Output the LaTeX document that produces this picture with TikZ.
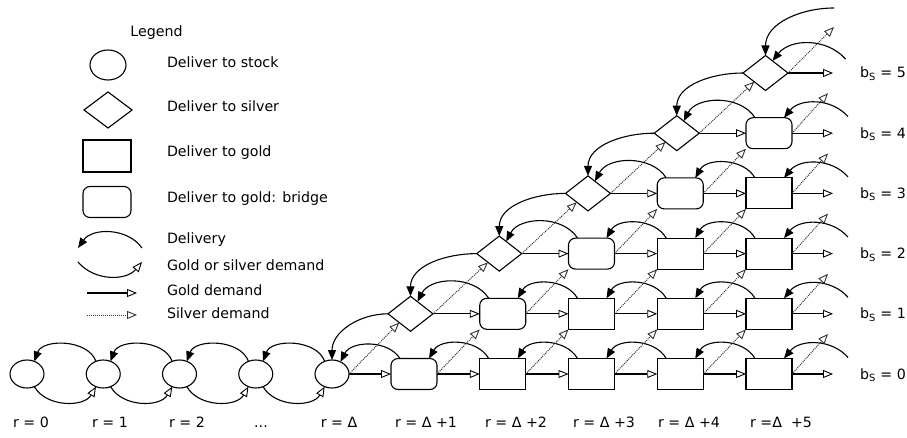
\documentclass[tikz,border=0pt]{standalone}
\usepackage{fontspec}
\setmainfont{DejaVu Sans}
\usetikzlibrary{shapes.geometric,arrows.meta,calc}
\begin{document}
\begin{tikzpicture}[x=1pt,y=1pt,
  every node/.style={inner sep=0pt, outer sep=0pt},
  shp/.style={draw, line width=1.1pt},
  circ/.style={shp, ellipse, minimum width=34pt, minimum height=28pt},
  diam/.style={shp, diamond, aspect=1.3, minimum width=45pt, minimum height=35pt},
  gbox/.style={shp, rectangle, minimum width=46pt, minimum height=31pt},
  rbox/.style={gbox, rounded corners=7pt},
  lbl/.style={font=\fontsize{14.2}{17}\selectfont},
  deliv/.style={line width=1.1pt, -{Triangle[length=10pt,width=8pt]}},
  dem/.style={line width=1.1pt, -{Triangle[open,length=10pt,width=8pt,line width=0.9pt]}},
  silv/.style={line width=1pt, draw=black!80, dash pattern=on 1pt off 1pt, -{Triangle[open,length=10pt,width=8pt,line width=0.9pt]}},
]
\useasboundingbox (0,0) rectangle (907,437);

% ---------- legend ----------
\node[lbl, anchor=base] (lgtitle) at (156.5,400) {Legend};
\node[circ, minimum width=36pt, minimum height=30pt] (lc) at (108,372) {};
\node[diam, minimum width=48pt, minimum height=36pt] (ld) at (108,327) {};
\node[gbox, minimum width=48pt, minimum height=32pt] (lr) at (107,281) {};
\node[rbox, minimum width=48pt, minimum height=31pt] (lrr) at (107,235) {};
\node[lbl, anchor=base west] (t1) at (167,369) {Deliver to stock};
\node[lbl, anchor=base west] (t2) at (167,325) {Deliver to silver};
\node[lbl, anchor=base west] (t3) at (167,280) {Deliver to gold};
\node[lbl, anchor=base west] (t4) at (167,234) {Deliver to gold: bridge};
\node[lbl, anchor=base west] (t5) at (167,194) {Delivery};
\node[lbl, anchor=base west] (t6) at (167,167) {Gold or silver demand};
\node[lbl, anchor=base west] (t7) at (167,142) {Gold demand};
\node[lbl, anchor=base west] (t8) at (167,119) {Silver demand};
\coordinate (la1) at (142,189);
\coordinate (la2) at (78,189);
\draw[deliv] (la1) to[bend right=55] (la2);
\coordinate (lb1) at (78,175);
\coordinate (lb2) at (142,175);
\draw[dem] (lb1) to[bend right=50] (lb2);
\coordinate (lg1) at (87,144);
\coordinate (lg2) at (137,144);
\draw[dem] (lg1) -- (lg2);
\coordinate (ls1) at (87,122);
\coordinate (ls2) at (137,122);
\draw[silv] (ls1) -- (ls2);

% ---------- stock circles ----------
\foreach \i in {0,...,3}{
  \node[circ] (c\i) at ({27+76.25*\i},63) {};
}
\node[circ, alias=n-0-0] (c4) at (332,63) {};

% ---------- grid of gold / silver nodes ----------
\foreach \j in {1,...,5}{
  \pgfmathsetmacro\X{414+88.75*(\j-1)}
  \foreach \k in {0,...,\j}{
    \pgfmathsetmacro\Y{63+60.2*\k}
    \pgfmathtruncatemacro\kk{\k+1}
    \ifnum\k=\j
      \node[diam] (n-\k-\j) at (\X-3.5,\Y) {};
    \else\ifnum\kk=\j
      \node[rbox] (n-\k-\j) at (\X,\Y) {};
    \else
      \node[gbox] (n-\k-\j) at (\X,\Y) {};
    \fi\fi
  }
}

% ---------- arcs between circles ----------
\foreach \i [evaluate=\i as \n using int(\i+1)] in {0,...,3}{
  \draw[deliv] (c\n.120) to[bend right=70] (c\i.60);
  \draw[dem] (c\i.-60) to[bend right=60] (c\n.-120);
}

% ---------- in-row delivery arcs ----------
\foreach \k in {0,...,4}{
  \foreach \j in {\k,...,4}{
    \pgfmathtruncatemacro\jj{\j+1}
    \ifnum\j=\k
      \ifnum\k=0
        \draw[deliv] ($(n-0-1.north west)+(9,0)$) to[bend right=60] (c4.55);
      \else
        \draw[deliv] ($(n-\k-\jj.north west)+(9,0)$) to[bend right=60] (n-\k-\j.60);
      \fi
    \else
      \draw[deliv] ($(n-\k-\jj.north west)+(9,0)$) to[bend right=60] ($(n-\k-\j.north east)+(-8,0)$);
    \fi
  }
}
% free in-row delivery arcs
\foreach \k in {0,...,4}{
  \coordinate (fd-\k) at ($(n-\k-5.north east)+(56,1)$);
  \draw[deliv] (fd-\k) to[bend right=50] ($(n-\k-5.north east)+(-8,0)$);
}
\coordinate (fd-5) at ($(n-5-5.center)+(80,14)$);
\draw[deliv] (fd-5) to[bend right=50] (n-5-5.60);

% ---------- diagonal delivery arcs ----------
\foreach \k [evaluate=\k as \p using int(\k-1)] in {1,...,5}{
  \draw[deliv] (n-\k-\k.west) to[out=180,in=90] (n-\p-\p.north);
}
\coordinate (fb) at ($(n-5-5.west)+(91,65)$);
\draw[deliv] (fb) to[out=180,in=90] (n-5-5.north);

% ---------- gold demand ----------
\foreach \k in {0,...,4}{
  \foreach \j in {\k,...,4}{
    \pgfmathtruncatemacro\jj{\j+1}
    \draw[dem] (n-\k-\j.east) -- (n-\k-\jj.west);
  }
}
\foreach \k in {0,...,5}{
  \pgfmathsetmacro\Y{63+60.2*\k}
  \coordinate (ge-\k) at (833,\Y);
  \draw[dem] (n-\k-5.east) -- (ge-\k);
}

% ---------- silver demand ----------
\foreach \k in {0,...,4}{
  \pgfmathtruncatemacro\kk{\k+1}
  \foreach \j in {\k,...,4}{
    \pgfmathtruncatemacro\jj{\j+1}
    \draw[silv] (n-\k-\j.east) -- (n-\kk-\jj.south west);
  }
  \coordinate (se-\k) at ($(n-\k-5.east)+(36,40)$);
  \draw[silv] (n-\k-5.east) -- (se-\k);
}
\coordinate (se-5) at ($(n-5-5.east)+(46,46)$);
\draw[silv] (n-5-5.east) -- (se-5);

% ---------- labels ----------
\node[lbl, anchor=base] (r0) at (31,10) {r = 0};
\node[lbl, anchor=base] (r1) at (110,10) {r = 1};
\node[lbl, anchor=base] (r2) at (187,10) {r = 2};
\node[lbl, anchor=base] (r3) at (261,10) {...};
\node[lbl, anchor=base] (r4) at (339,10) {r = Δ};
\node[lbl, anchor=base] (r5) at (426,10) {r = Δ +1};
\node[lbl, anchor=base] (r6) at (516,10) {r = Δ +2};
\node[lbl, anchor=base] (r7) at (604,10) {r = Δ +3};
\node[lbl, anchor=base] (r8) at (689,10) {r = Δ +4};
\node[lbl, anchor=base] (r9) at (781,10) {r =Δ\ \ +5};
\foreach \k in {0,...,5}{
  \pgfmathsetmacro\Y{58+60.2*\k}
  \node[lbl, anchor=base west] (b\k) at (860,\Y) {b\textsubscript{S} = \k};
}
\end{tikzpicture}
\end{document}
